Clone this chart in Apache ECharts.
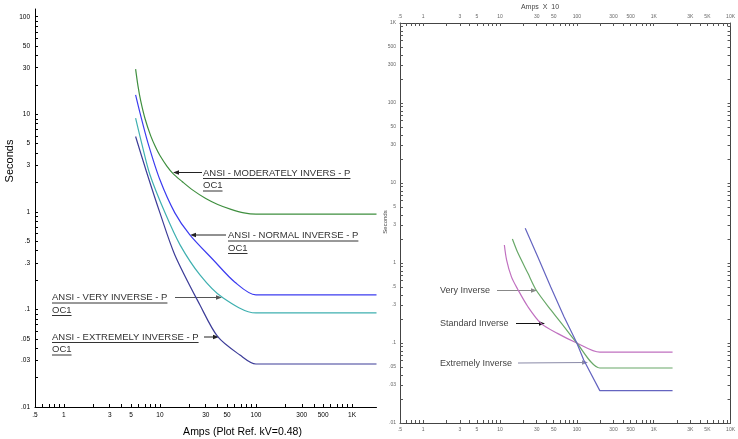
<!DOCTYPE html>
<html>
<head>
<meta charset="utf-8">
<script src="https://cdn.jsdelivr.net/npm/echarts@6/dist/echarts.min.js"></script>
<style>
  html, body { margin: 0; padding: 0; background: #fff; }
  #chart { width: 738px; height: 439px; }
</style>
</head>
<body>
<div id="chart"></div>
<script>
// ---- left plot: ANSI curves (Amps, Seconds) ----
const modAmps = [5.58, 5.9, 6.3, 7.0, 8.0, 9.0, 10, 11.8, 13.7, 17, 22, 30, 40, 55, 75, 100, 1800];
const modSec  = [29, 19.7, 13.8, 9.0, 6.05, 4.62, 3.78, 2.95, 2.47, 2.05, 1.67, 1.37, 1.19, 1.06, 0.975, 0.947, 0.947];
const norAmps = [5.58, 6.19, 7.5, 10, 14.3, 20.5, 35.6, 60.4, 100, 1800];
const norSec  = [15.8, 10.4, 5.1, 2.13, 0.977, 0.581, 0.325, 0.19, 0.141, 0.141];
const veryAmps = [5.58, 6.45, 7.87, 11.3, 16.2, 26.1, 44.2, 100, 1800];
const verySec  = [9.14, 5.07, 2.40, 0.977, 0.459, 0.226, 0.134, 0.092, 0.092];
const extAmps = [5.58, 7.27, 10, 14.3, 26.1, 40.2, 68.1, 100, 1800];
const extSec  = [5.92, 2.55, 0.977, 0.362, 0.111, 0.0522, 0.0341, 0.0276, 0.0276];

// ---- right plot: IEC curves (Amps X 10, Seconds) ----
const stdAmps = [11.4, 12.2, 14.1, 16.8, 23.1, 34.2, 55.9, 100, 199, 1760];
const stdSec  = [1.68, 1.09, 0.67, 0.48, 0.284, 0.176, 0.132, 0.1, 0.077, 0.077];
const viAmps  = [14.5, 17.2, 23.1, 29.5, 45.9, 68.1, 100, 199, 1760];
const viSec   = [2.0, 1.32, 0.743, 0.46, 0.259, 0.16, 0.1, 0.0487, 0.0487];
const eiAmps  = [21.3, 31, 45.6, 68.1, 100, 122.9, 199, 1760];
const eiSec   = [2.72, 1.2, 0.506, 0.213, 0.1, 0.0613, 0.0254, 0.0254];

// tick labels
const leftXLabels  = [0.5, 1, 3, 5, 10, 30, 50, 100, 300, 500, 1000];
const leftYLabels  = [0.01, 0.03, 0.05, 0.1, 0.3, 0.5, 1, 3, 5, 10, 30, 50, 100];
const rightXLabels = [0.5, 1, 3, 5, 10, 30, 50, 100, 300, 500, 1000, 3000, 5000, 10000];
const rightYLabels = [0.01, 0.03, 0.05, 0.1, 0.3, 0.5, 1, 3, 5, 10, 30, 50, 100, 300, 500, 1000];

function pairs(xs, ys) { return xs.map((x, i) => [x, ys[i]]); }

// minor ticks 1..9 per decade inside [min, max]
function logTicks(min, max) {
  const out = [];
  for (let e = -3; e <= 5; e++) {
    for (let m = 1; m <= 9; m++) {
      const v = +(m * Math.pow(10, e)).toPrecision(3);
      if (v >= min * 0.999 && v <= max * 1.001) out.push(v);
    }
  }
  return out;
}

function fmt(v) {
  v = +(+v).toPrecision(3);
  if (v >= 1000) return (v / 1000) + 'K';
  if (v < 1) return String(v).replace(/^0\./, '.');
  return String(v);
}

function logAxis(opt) {
  return Object.assign({
    type: 'log',
    logBase: 10,
    splitLine: { show: false },
    axisLine: { show: true, onZero: false, lineStyle: { color: '#000', width: 1 } },
    axisTick: { show: true, inside: true, length: 3, lineStyle: { color: '#000' } },
    axisLabel: { fontSize: 6.5, color: '#000', margin: 5, formatter: fmt, fontFamily: 'Liberation Sans' }
  }, opt);
}

const leftX = logAxis({ gridIndex: 0, min: 0.5, max: 1800, position: 'bottom' });
leftX.axisTick.customValues = logTicks(0.5, 1800);
leftX.axisLabel.customValues = leftXLabels;
const leftY = logAxis({ gridIndex: 0, min: 0.01, max: 120, position: 'left' });
leftY.axisTick.customValues = logTicks(0.01, 120);
leftY.axisLabel.customValues = leftYLabels;

function rightAxis(opt, labels, min, max, showLabel) {
  const a = logAxis(Object.assign({ gridIndex: 1, min: min, max: max }, opt));
  a.axisLine.lineStyle.color = '#444';
  a.axisTick.lineStyle.color = '#555';
  a.axisTick.customValues = logTicks(min, max);
  a.axisLabel = { show: showLabel, customValues: labels, formatter: fmt, fontSize: 5, color: '#666', margin: 4, fontFamily: 'Liberation Sans' };
  return a;
}
const rTop = rightAxis({ position: 'top' }, rightXLabels, 0.5, 10000, true);
const rBot = rightAxis({ position: 'bottom' }, rightXLabels, 0.5, 10000, true);
const rLeft = rightAxis({ position: 'left' }, rightYLabels, 0.01, 1000, true);
const rRight = rightAxis({ position: 'right' }, rightYLabels, 0.01, 1000, false);

function line(name, data, color, xi, yi, smooth) {
  return {
    name: name, type: 'line', data: data, xAxisIndex: xi, yAxisIndex: yi,
    symbol: 'none', smooth: smooth,
    lineStyle: { color: color, width: 1.2 }, silent: true, animation: false
  };
}

// text width for underlines
const ctx = document.createElement('canvas').getContext('2d');
function textW(str, font) { ctx.font = font; return ctx.measureText(str).width; }

function note(x, y, lines, font, color, underline) {
  const els = [];
  lines.forEach((s, i) => {
    const yy = y + i * 12.5;
    els.push({ type: 'text', x: x, y: yy, style: { text: s, font: font, fill: color, align: 'left', verticalAlign: 'middle' } });
    if (underline) {
      els.push({ type: 'line', shape: { x1: x, y1: yy + 5.5, x2: x + textW(s, font), y2: yy + 5.5 }, style: { stroke: color, lineWidth: 1 } });
    }
  });
  return els;
}

function arrow(x1, y1, x2, y2, color) {
  const dx = x2 - x1, dy = y2 - y1, len = Math.hypot(dx, dy);
  const ux = dx / len, uy = dy / len, hl = 6, hw = 2.2;
  const bx = x2 - ux * hl, by = y2 - uy * hl;
  return [
    { type: 'line', shape: { x1: x1, y1: y1, x2: bx, y2: by }, style: { stroke: color, lineWidth: 1 } },
    { type: 'polygon', shape: { points: [[x2, y2], [bx - uy * hw, by + ux * hw], [bx + uy * hw, by - ux * hw]] }, style: { fill: color } }
  ];
}

const leftFont = '9.5px "Liberation Sans", Arial, sans-serif';
const rightFont = '9px "Liberation Sans", Arial, sans-serif';
const graphics = [].concat(
  { type: 'text', x: 10, y: 161, rotation: Math.PI / 2, style: { text: 'Seconds', font: '11px "Liberation Sans", Arial', fill: '#000', align: 'center', verticalAlign: 'middle' } },
  { type: 'text', x: 242.5, y: 432, style: { text: 'Amps (Plot Ref. kV=0.48)', font: '10.5px "Liberation Sans", Arial', fill: '#000', align: 'center', verticalAlign: 'middle' } },
  note(203, 173, ['ANSI - MODERATELY INVERS - P', 'OC1'], leftFont, '#333', true),
  arrow(202, 172.5, 173, 172.5, '#222'),
  note(228, 235.5, ['ANSI - NORMAL INVERSE - P', 'OC1'], leftFont, '#333', true),
  arrow(226, 235, 190, 235, '#222'),
  note(52, 297.5, ['ANSI - VERY INVERSE - P', 'OC1'], leftFont, '#333', true),
  arrow(175, 297.5, 222, 297.5, '#555'),
  note(52, 337, ['ANSI - EXTREMELY INVERSE - P', 'OC1'], leftFont, '#333', true),
  arrow(204, 337, 219, 337, '#222'),
  { type: 'text', x: 540, y: 7, style: { text: 'Amps  X  10', font: '7px "Liberation Sans", Arial', fill: '#444', align: 'center', verticalAlign: 'middle' } },
  { type: 'text', x: 385, y: 222, rotation: Math.PI / 2, style: { text: 'Seconds', font: '6px "Liberation Sans", Arial', fill: '#444', align: 'center', verticalAlign: 'middle' } },
  note(440, 291, ['Very Inverse'], rightFont, '#444', false),
  arrow(497, 290.5, 537, 290.5, '#888'),
  note(440, 324, ['Standard Inverse'], rightFont, '#444', false),
  arrow(516, 323.5, 545, 323.5, '#111'),
  note(440, 364, ['Extremely Inverse'], rightFont, '#444', false),
  arrow(518, 363, 588, 362.5, '#8a8aa8')
);

const chart = echarts.init(document.getElementById('chart'), null, { renderer: 'canvas' });
chart.setOption({
  backgroundColor: '#fff',
  animation: false,
  grid: [
    { left: 35, right: 361.5, top: 9, bottom: 32 },
    { left: 400, right: 2, top: 23, bottom: 16 }
  ],
  xAxis: [leftX, rTop, rBot],
  yAxis: [leftY, rLeft, rRight],
  series: [
    line('ANSI - MODERATELY INVERS - P OC1', pairs(modAmps, modSec), '#3f8f3f', 0, 0, 0.3),
    line('ANSI - NORMAL INVERSE - P OC1', pairs(norAmps, norSec), '#3c3cf0', 0, 0, 0.3),
    line('ANSI - VERY INVERSE - P OC1', pairs(veryAmps, verySec), '#3fb0b0', 0, 0, 0.3),
    line('ANSI - EXTREMELY INVERSE - P OC1', pairs(extAmps, extSec), '#3c3c98', 0, 0, 0.3),
    line('Standard Inverse', pairs(stdAmps, stdSec), '#c070c0', 1, 1, 0.3),
    line('Very Inverse', pairs(viAmps, viSec), '#68a868', 1, 1, 0.25),
    line('Extremely Inverse', pairs(eiAmps, eiSec), '#6464c0', 1, 1, false)
  ],
  graphic: graphics
});
</script>
</body>
</html>
